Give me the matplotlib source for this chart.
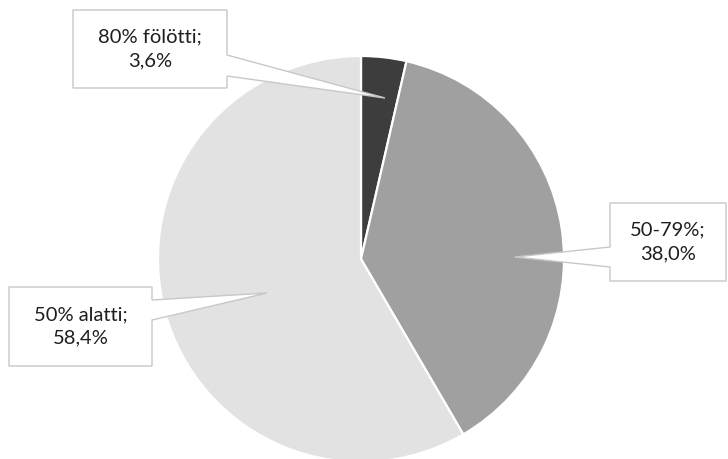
import matplotlib
matplotlib.use("Agg")
import matplotlib.pyplot as plt
from matplotlib.patches import Polygon

labels = ["80% fölötti", "50-79%", "50% alatti"]
shares = [3.6, 38.0, 58.4]
colors = ["#3d3d3d", "#a0a0a0", "#e2e2e2"]

W, H = 728, 459
fig = plt.figure(figsize=(W / 100, H / 100), dpi=100)
ax = fig.add_axes([0, 0, 1, 1])

cx, cy, r = 361, H - 259, 203
ax.pie(shares, colors=colors, startangle=90, counterclock=False,
       center=(cx, cy), radius=r, frame=True,
       wedgeprops=dict(edgecolor="white", linewidth=1.6))
ax.set_xlim(0, W)
ax.set_ylim(0, H)
ax.set_aspect("equal")
ax.axis("off")


def callout(box, side, p1, p2, tip, text):
    """Box (x0, y0, x1, y1) in top-down pixels with a pointer on one side."""
    x0, y0, x1, y1 = box
    if side == "right":
        pts = [(x0, y0), (x1, y0), (x1, p1), tip, (x1, p2), (x1, y1), (x0, y1)]
    else:
        pts = [(x0, y0), (x1, y0), (x1, y1), (x0, y1), (x0, p2), tip, (x0, p1)]
    pts = [(x, H - y) for x, y in pts]
    ax.add_patch(Polygon(pts, closed=True, facecolor="white",
                         edgecolor="#c8c8c8", linewidth=1.0, zorder=5))
    ax.text((x0 + x1) / 2, H - (y0 + y1) / 2, text, ha="center", va="center",
            fontsize=14.5, family="Lato", color="#1e1e1e", linespacing=1.45,
            zorder=6)


def fmt(i):
    return f"{labels[i]};\n{shares[i]:.1f}%".replace(".", ",")


callout((73, 10, 227, 88), "right", 55, 76, (385, 98), fmt(0))
callout((610, 203, 726, 281), "left", 247, 267, (515, 257), fmt(1))
callout((9, 287, 152, 366), "right", 300, 320, (267, 293), fmt(2))

fig.savefig("out.png", dpi=100)
